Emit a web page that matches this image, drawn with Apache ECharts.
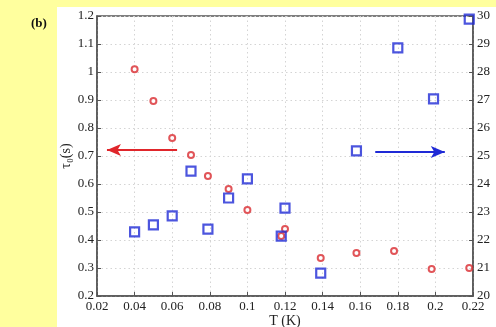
<!DOCTYPE html>
<html><head><meta charset="utf-8">
<script src="https://cdn.jsdelivr.net/npm/echarts@6/dist/echarts.min.js"></script>
<style>html,body{margin:0;padding:0;background:#FFFF9E;}#c{width:496px;height:327px;}</style>
</head><body><div id="c"></div>
<script>
// Data
const tRed = [0.04, 0.05, 0.06, 0.07, 0.079, 0.09, 0.10, 0.118, 0.12, 0.139, 0.158, 0.178, 0.198, 0.218];
const tauValues = [1.01, 0.896, 0.764, 0.704, 0.629, 0.582, 0.507, 0.414, 0.439, 0.336, 0.354, 0.361, 0.296, 0.300];
const tBlue = [0.04, 0.05, 0.06, 0.07, 0.079, 0.09, 0.10, 0.118, 0.12, 0.139, 0.158, 0.18, 0.199, 0.218];
const rightValues = [22.29, 22.54, 22.86, 24.46, 22.39, 23.5, 24.18, 22.14, 23.14, 20.82, 25.18, 28.86, 27.04, 29.89];
const redArrow = [[0.0626, 0.721], [0.0253, 0.721]];
const blueArrow = [[0.168, 25.14], [0.205, 25.14]];
const panelLabel = '(b)';
const xName = 'T (K)';
const yName = 'τ₀(s)';

const fmt = v => String(parseFloat(v.toFixed(2)));
const font = '"Liberation Serif", "DejaVu Serif", serif';
const gridLine = {show: true, lineStyle: {color: '#d4d4d4', type: [1.5, 3], width: 1}};
const axisLine = {show: true, lineStyle: {color: '#555', width: 1.5}};

const chart = echarts.init(document.getElementById('c'));
chart.setOption({
  animation: false,
  backgroundColor: 'transparent',
  graphic: [
    {type: 'rect', left: 57, top: 7, shape: {width: 439, height: 320}, style: {fill: '#ffffff'}, z: -10},
    {type: 'text', left: 31, top: 17, style: {text: panelLabel, font: 'bold 13px ' + font, fill: '#111'}}
  ],
  grid: {left: 97, right: 23, top: 16, bottom: 31, containLabel: false, outerBoundsMode: 'none',
         show: true, borderColor: '#555', borderWidth: 1.5, backgroundColor: 'transparent'},
  xAxis: {
    type: 'value', min: 0.02, max: 0.22, interval: 0.02,
    name: xName, nameLocation: 'middle', nameGap: 18, nameMoveOverlap: false,
    nameTextStyle: {fontFamily: font, fontSize: 14, color: '#222'},
    axisLine: axisLine,
    axisTick: {show: true, inside: true, length: 4, lineStyle: {color: '#555'}},
    axisLabel: {formatter: fmt, fontFamily: font, fontSize: 13, color: '#222', margin: 4},
    splitLine: gridLine
  },
  yAxis: [{
    type: 'value', min: 0.2, max: 1.2, interval: 0.1,
    name: yName, nameLocation: 'middle', nameGap: 24, nameRotate: 90, nameMoveOverlap: false,
    nameTextStyle: {fontFamily: font, fontSize: 14, color: '#222'},
    axisLine: axisLine,
    axisTick: {show: true, inside: true, length: 4, lineStyle: {color: '#555'}},
    axisLabel: {formatter: fmt, fontFamily: font, fontSize: 13, color: '#222', margin: 3},
    splitLine: gridLine
  }, {
    type: 'value', min: 20, max: 30, interval: 1, position: 'right',
    axisLine: axisLine,
    axisTick: {show: true, inside: true, length: 4, lineStyle: {color: '#555'}},
    axisLabel: {fontFamily: font, fontSize: 13, color: '#222', margin: 4},
    splitLine: {show: false}
  }],
  series: [{
    type: 'scatter', yAxisIndex: 0,
    data: tRed.map((t, i) => [t, tauValues[i]]),
    symbol: 'circle', symbolSize: 6,
    itemStyle: {color: '#ffffff', borderColor: '#d92b30', borderWidth: 2},
    markLine: {
      silent: true, symbol: ['none', 'arrow'], symbolSize: [9, 14],
      label: {show: false},
      lineStyle: {color: '#e0262b', width: 2, type: 'solid'},
      data: [[{coord: redArrow[0]}, {coord: redArrow[1]}]]
    }
  }, {
    type: 'scatter', yAxisIndex: 1,
    data: tBlue.map((t, i) => [t, rightValues[i]]),
    symbol: 'rect', symbolSize: 9,
    itemStyle: {color: 'rgba(255,255,255,0)', borderColor: '#1f2ad6', borderWidth: 2.2},
    markLine: {
      silent: true, symbol: ['none', 'arrow'], symbolSize: [9, 14],
      label: {show: false},
      lineStyle: {color: '#1f2ad6', width: 2, type: 'solid'},
      data: [[{coord: blueArrow[0]}, {coord: blueArrow[1]}]]
    }
  }]
});
</script></body></html>
